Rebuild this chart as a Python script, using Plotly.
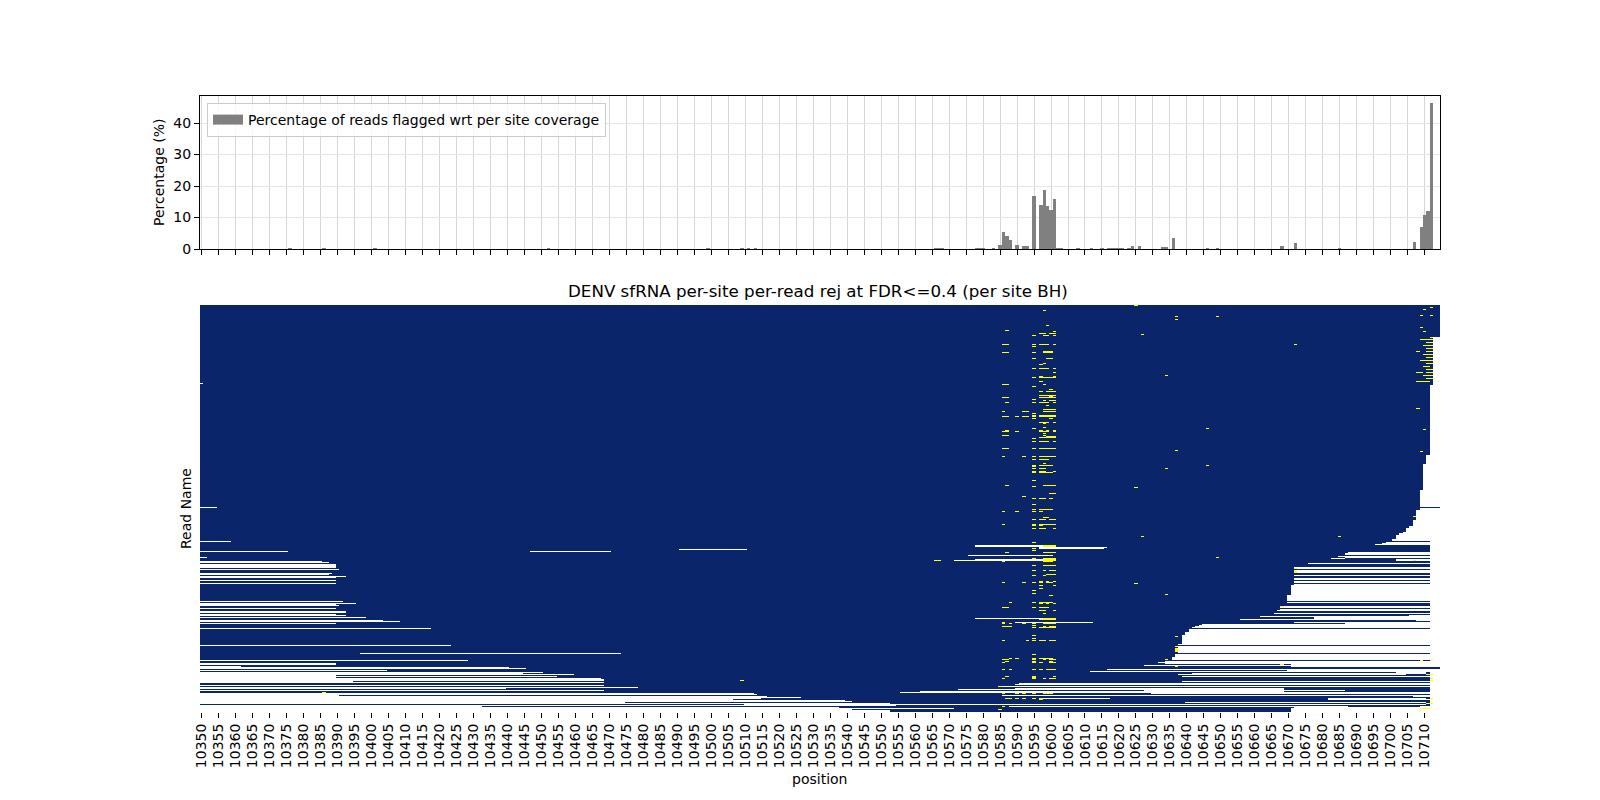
import plotly.graph_objects as go

first_pos = 10350
last_pos = 10714
n_rows = 407
y_ticks = [0, 10, 20, 30, 40]
x_ticks = list(range(10350, 10715, 5))

bar_positions = [10376, 10386, 10401, 10452, 10499, 10509, 10511, 10513, 10566, 10567, 10568, 10578, 10579, 10580, 10583, 10585, 10586, 10587, 10588, 10590, 10592, 10593, 10595, 10597, 10598, 10599, 10600, 10601, 10602, 10603, 10608, 10612, 10615, 10617, 10618, 10619, 10620, 10621, 10623, 10624, 10626, 10633, 10634, 10636, 10646, 10649, 10668, 10672, 10685, 10707, 10709, 10710, 10711, 10712]
bar_values = [0.3, 0.3, 0.3, 0.3, 0.3, 0.3, 0.3, 0.3, 0.3, 0.3, 0.3, 0.3, 0.3, 0.3, 0.3, 1.3, 5.4, 4.2, 3.0, 1.2, 1.0, 1.0, 16.9, 14.0, 18.8, 13.8, 12.5, 16.0, 0.3, 0.3, 0.3, 0.3, 0.3, 0.3, 0.3, 0.3, 0.3, 0.3, 0.3, 0.9, 0.8, 0.6, 0.6, 3.5, 0.3, 0.3, 0.9, 2.0, 0.3, 2.3, 7.0, 10.9, 12.2, 46.3]

# uncovered stretches of a read: (row, first position, last position)
gap_spans = [
 (202,10350,10354),(78,10350,10350),(236,10350,10358),(246,10350,10375),(246,10447,10470),
 (252,10350,10351),(256,10350,10385),(257,10350,10387),(259,10350,10389),(260,10350,10389),(261,10350,10389),
 (262,10350,10389),(264,10350,10390),(268,10350,10388),(269,10350,10387),(271,10350,10392),(272,10350,10389),
 (275,10350,10389),(278,10350,10389),(296,10350,10391),(298,10350,10395),(299,10350,10389),(300,10350,10390),
 (303,10350,10389),(306,10350,10392),(307,10350,10392),(309,10350,10389),(310,10350,10392),(312,10350,10398),
 (315,10350,10403),(316,10350,10408),(318,10350,10389),(323,10350,10417),(340,10350,10423),(348,10397,10473),
 (355,10350,10428),(358,10350,10389),(359,10350,10389),(361,10350,10361),(362,10350,10440),(363,10350,10445),
 (365,10350,10404),(367,10350,10450),(368,10350,10444),(369,10350,10459),(370,10350,10389),(371,10350,10454),
 (372,10350,10389),(373,10350,10467),(374,10350,10468),(375,10350,10468),(376,10350,10394),(377,10350,10468),
 (380,10350,10468),(382,10350,10478),(383,10350,10439),(385,10350,10468),(388,10350,10512),(389,10350,10513),
 (390,10350,10390),(391,10350,10516),(392,10350,10526),(393,10350,10514),(394,10350,10506),(395,10350,10539),
 (396,10350,10541),(397,10350,10474),(398,10350,10552),(399,10510,10710),(400,10350,10554),(401,10350,10432),
 (402,10350,10537),(403,10350,10571),(404,10350,10541),(405,10350,10552),(406,10350,10552),
 (244,10491,10510),(240,10578,10597),(241,10578,10597),(242,10597,10616),(243,10597,10615),(250,10576,10600),
 (254,10578,10600),(255,10572,10599),(313,10578,10597),(317,10590,10612),(317,10672,10686),
 (253,10683,10686),(304,10668,10707),(311,10662,10705),(314,10656,10677),(357,10632,10670),(358,10634,10670),
 (360,10628,10670),(364,10617,10670),(366,10612,10669),(367,10702,10710),(368,10642,10710),(369,10638,10704),
 (371,10639,10711),(376,10639,10711),(383,10590,10668),(384,10573,10668),(385,10628,10686),(386,10562,10668),
 (387,10556,10711),(393,10597,10617),(393,10682,10710),(397,10640,10710),(401,10588,10687),(402,10672,10687),
]
# white from this position to the right edge: (first row, last row, first position)
tail_spans = [
 (32,79,10713),(80,149,10712),(150,158,10711),(159,184,10710),(185,201,10709),(203,204,10709),(205,214,10708),
 (215,220,10707),(221,222,10706),(223,226,10705),(227,227,10704),(228,229,10703),(230,233,10702),(234,235,10701),
 (236,236,10712),(237,237,10699),(238,238,10698),(239,239,10696),(240,246,10712),(247,247,10688),(248,249,10687),
 (250,250,10712),(251,251,10685),(252,252,10687),(253,253,10712),(254,255,10702),(256,257,10712),(258,258,10676),
 (259,261,10712),(262,263,10672),(264,264,10712),(265,267,10672),(268,269,10712),(270,270,10672),(271,272,10712),
 (273,274,10672),(275,275,10712),(276,277,10672),(278,278,10712),(279,279,10672),(280,289,10671),(290,295,10670),
 (296,296,10712),(297,297,10670),(298,300,10712),(301,302,10668),(303,303,10712),(304,304,10708),(305,305,10667),
 (306,307,10712),(308,308,10666),(309,309,10712),(310,310,10706),(311,311,10706),(312,312,10678),(313,314,10678),
 (315,315,10708),(316,316,10712),(317,318,10687),(319,319,10645),(320,320,10644),(321,321,10643),(322,322,10642),
 (323,323,10712),(324,326,10641),(327,329,10640),(330,338,10639),(339,339,10638),(340,340,10712),(341,347,10638),
 (348,348,10712),(349,351,10637),(352,354,10636),(355,355,10712),(356,356,10634),(357,361,10671),(364,364,10670),
 (365,365,10670),(366,366,10669),(367,377,10712),(378,378,10591),(379,379,10590),(380,380,10712),(381,381,10586),
 (382,387,10712),(388,388,10630),(389,389,10712),(390,390,10586),(391,391,10707),(392,393,10712),(394,394,10682),
 (395,400,10712),(401,401,10709),(402,402,10688),(403,406,10671),
]
# flagged sites: (row, first position, last position)
flag_spans = [
 (0,10625,10625),(5,10598,10598),(11,10637,10637),(11,10649,10649),(14,10637,10637),(20,10599,10599),(25,10587,10587),
 (26,10601,10601),(28,10597,10598),(28,10600,10601),(29,10627,10627),(30,10595,10595),(30,10598,10599),(30,10601,10601),
 (39,10586,10587),(39,10595,10595),(39,10597,10599),(39,10601,10601),(39,10672,10672),(41,10595,10595),(46,10598,10600),
 (47,10586,10587),(47,10595,10595),(47,10598,10600),(53,10595,10595),(53,10599,10600),(58,10598,10598),(59,10597,10597),
 (63,10595,10595),(63,10597,10599),(63,10601,10601),(67,10601,10601),(70,10634,10634),(71,10597,10597),(71,10601,10601),
 (72,10595,10595),(72,10597,10601),(76,10597,10597),(79,10586,10587),(79,10598,10598),(81,10595,10595),(84,10600,10600),
 (86,10597,10597),(86,10599,10601),(90,10597,10601),(91,10600,10600),(92,10586,10587),(92,10597,10601),(94,10595,10595),
 (95,10598,10598),(95,10600,10601),(97,10587,10587),(97,10595,10595),(97,10597,10599),(97,10601,10601),(100,10599,10599),
 (104,10598,10601),(106,10586,10586),(106,10592,10593),(106,10598,10601),(108,10595,10595),(110,10595,10595),(110,10597,10601),
 (111,10586,10587),(111,10590,10590),(111,10592,10593),(111,10595,10595),(111,10597,10601),(113,10595,10595),(113,10600,10600),
 (117,10597,10599),(117,10601,10601),(118,10598,10598),(122,10598,10598),(123,10595,10595),(123,10646,10646),(125,10587,10587),
 (125,10597,10597),(125,10599,10599),(125,10601,10601),(126,10586,10587),(126,10590,10590),(126,10597,10599),(126,10601,10601),
 (128,10598,10598),(130,10586,10587),(130,10598,10598),(131,10599,10601),(132,10597,10601),(133,10595,10595),(136,10595,10595),
 (136,10597,10599),(136,10601,10601),(143,10586,10587),(143,10595,10595),(143,10597,10601),(145,10637,10637),(151,10586,10586),
 (151,10592,10592),(151,10595,10595),(151,10597,10601),(154,10595,10595),(154,10597,10599),(158,10598,10598),(160,10595,10595),
 (160,10597,10600),(160,10646,10646),(161,10595,10595),(163,10595,10595),(163,10597,10598),(163,10634,10634),(166,10595,10595),
 (166,10597,10598),(166,10601,10601),(167,10595,10595),(167,10597,10600),(175,10595,10595),(180,10587,10587),(180,10598,10601),
 (181,10595,10595),(182,10625,10625),(188,10600,10601),(191,10592,10592),(193,10595,10595),(193,10597,10598),(193,10600,10600),
 (199,10595,10595),(204,10595,10595),(204,10597,10600),(206,10586,10586),(206,10590,10590),(206,10595,10595),(206,10597,10597),
 (212,10598,10599),(214,10595,10595),(214,10597,10598),(214,10600,10601),(219,10586,10586),(219,10595,10595),(219,10597,10601),
 (220,10595,10595),(220,10597,10597),(223,10595,10595),(223,10597,10598),(223,10601,10601),(237,10595,10595),(240,10598,10601),
 (241,10598,10601),(243,10595,10595),(245,10595,10595),(247,10587,10587),(247,10598,10601),(253,10595,10595),(253,10598,10601),
 (254,10598,10601),(255,10598,10601),(256,10586,10586),(256,10598,10600),(260,10595,10595),(260,10598,10601),(265,10595,10595),
 (265,10598,10598),(265,10600,10601),(269,10599,10601),(270,10595,10595),(270,10598,10598),(276,10597,10597),(276,10599,10599),
 (276,10601,10601),(277,10586,10586),(277,10592,10592),(277,10595,10595),(277,10597,10597),(277,10599,10600),(280,10597,10597),
 (280,10601,10601),(283,10597,10597),(285,10595,10595),(288,10595,10595),(290,10600,10600),(297,10588,10588),(297,10595,10595),
 (297,10597,10600),(298,10597,10597),(298,10599,10599),(298,10601,10601),(302,10586,10587),(302,10595,10595),(302,10597,10599),
 (305,10597,10598),(305,10601,10601),(308,10598,10598),(313,10598,10601),(314,10597,10601),(317,10586,10586),(318,10586,10586),
 (318,10588,10588),(318,10592,10592),(318,10595,10595),(318,10598,10601),(320,10595,10595),(321,10586,10588),(321,10598,10598),
 (321,10600,10601),(322,10595,10595),(322,10597,10601),(330,10595,10595),(333,10595,10595),(335,10586,10586),(335,10593,10593),
 (335,10595,10595),(335,10597,10598),(335,10600,10601),(349,10595,10595),(353,10588,10588),(353,10590,10590),(353,10595,10595),
 (353,10597,10600),(354,10586,10587),(354,10595,10595),(354,10598,10598),(354,10600,10601),(356,10587,10587),(356,10595,10595),
 (356,10600,10600),(357,10586,10586),(357,10595,10595),(357,10597,10597),(357,10600,10601),(364,10586,10586),(364,10588,10588),
 (364,10595,10595),(364,10597,10597),(364,10599,10601),(371,10587,10587),(371,10595,10595),(371,10601,10601),(372,10595,10595),
 (373,10586,10586),(373,10595,10595),(373,10598,10598),(373,10600,10601),(381,10585,10585),(388,10586,10586),(388,10590,10590),
 (388,10592,10592),(388,10595,10595),(388,10598,10600),(393,10587,10588),(393,10590,10590),(393,10592,10592),(393,10595,10595),
 (393,10597,10597),(394,10597,10597),(401,10586,10586),(404,10585,10585),
 (375,10509,10509),(387,10386,10386),(255,10566,10567),(231,10627,10627),(231,10685,10685),(252,10649,10649),(278,10625,10625),
 (289,10634,10634),(263,10672,10672),(266,10672,10672),(267,10672,10672),(301,10668,10668),(331,10637,10637),(341,10637,10637),
 (343,10637,10637),(344,10637,10637),(345,10637,10637),(346,10637,10637),(354,10634,10634),(359,10668,10668),(361,10637,10637),
 (211,10707,10707),(255,10707,10707),(355,10709,10709),(355,10712,10712),(369,10711,10712),(373,10712,10712),(375,10712,10712),
 (393,10712,10712),(398,10711,10712),(403,10709,10711),
 (2,10712,10712),(4,10710,10710),(10,10709,10709),(10,10712,10712),(22,10709,10709),(26,10710,10710),(32,10712,10712),(34,10709,10712),
 (37,10711,10712),(40,10710,10712),(43,10711,10712),(46,10708,10708),(46,10711,10712),(49,10710,10712),(52,10711,10712),
 (55,10709,10712),(58,10711,10712),(61,10710,10711),(64,10711,10712),(67,10708,10709),(67,10711,10712),(70,10710,10712),(73,10711,10712),
 (76,10708,10711),(103,10708,10708),(124,10710,10710),(146,10709,10709),
]

positions = list(range(first_pos, last_pos + 1))
z = [[0] * len(positions) for _ in range(n_rows)]
for row, a, b in gap_spans:
    for p in range(a, b + 1):
        z[row][p - first_pos] = None
for r1, r2, a in tail_spans:
    for row in range(r1, r2 + 1):
        for p in range(a, last_pos + 1):
            z[row][p - first_pos] = None
for row, a, b in flag_spans:
    for p in range(a, b + 1):
        z[row][p - first_pos] = 1

FONT = "DejaVu Sans"
LEGEND_NAME = "Percentage of reads flagged wrt per site coverage"
fig = go.Figure()
fig.add_trace(go.Bar(x=bar_positions, y=bar_values, width=1.0, marker=dict(color="#808080", line=dict(width=0)),
                     name=LEGEND_NAME, showlegend=False, xaxis="x", yaxis="y"))
fig.add_trace(go.Scatter(x=[None], y=[None], mode="lines", line=dict(color="#808080", width=10), name=LEGEND_NAME,
                         xaxis="x", yaxis="y"))
fig.add_trace(go.Heatmap(z=z, x=positions, y=list(range(n_rows)), colorscale=[[0, "#0a2569"], [1, "#ffff00"]],
                         zmin=0, zmax=1, showscale=False, xaxis="x2", yaxis="y2", hoverongaps=False))

x_range = [first_pos - 0.5, last_pos + 0.5]
fig.update_layout(
    width=1600, height=800, autosize=False, margin=dict(l=0, r=0, t=0, b=0, autoexpand=False),
    paper_bgcolor="white", plot_bgcolor="white", font=dict(family=FONT, size=14, color="black"), bargap=0,
    showlegend=True,
    legend=dict(x=207 / 1600, y=1 - 103 / 800, xanchor="left", yanchor="top", bgcolor="rgba(255,255,255,0.8)",
                bordercolor="#cccccc", borderwidth=1, font=dict(size=14), itemwidth=30),
    xaxis=dict(domain=[200 / 1600, 1440 / 1600], anchor="y", range=x_range, tickvals=x_ticks, showticklabels=False,
               ticks="outside", ticklen=5, tickcolor="black", showline=True, linecolor="black", mirror=True, linewidth=1,
               showgrid=True, gridcolor="#d6d6d6", gridwidth=1, zeroline=False),
    yaxis=dict(domain=[1 - 249 / 800, 1 - 96 / 800], anchor="x", range=[0, 48.6], tickvals=y_ticks,
               ticks="outside", ticklen=5, tickcolor="black", showline=True, linecolor="black", mirror=True, linewidth=1,
               showgrid=True, gridcolor="#e6e6e6", gridwidth=1, zeroline=False),
    xaxis2=dict(domain=[200 / 1600, 1440 / 1600], anchor="y2", range=x_range, tickvals=x_ticks, ticktext=[str(t) for t in x_ticks],
                tickangle=-90, ticks="outside", ticklen=5, tickcolor="black", showline=False, showgrid=False, zeroline=False),
    yaxis2=dict(domain=[1 - 712 / 800, 1 - 305 / 800], anchor="x2", range=[n_rows - 0.5, -0.5], showticklabels=False,
                ticks="", showline=False, showgrid=False, zeroline=False),
    annotations=[
        dict(text="DENV sfRNA per-site per-read rej at FDR<=0.4 (per site BH)", x=818 / 1600, y=1 - 291 / 800, xref="paper", yref="paper",
             showarrow=False, font=dict(size=16.7), xanchor="center", yanchor="middle"),
        dict(text="Percentage (%)", x=159 / 1600, y=1 - 173 / 800, xref="paper", yref="paper", showarrow=False, textangle=-90,
             font=dict(size=14), xanchor="center", yanchor="middle"),
        dict(text="Read Name", x=186 / 1600, y=1 - 509 / 800, xref="paper", yref="paper", showarrow=False, textangle=-90,
             font=dict(size=14), xanchor="center", yanchor="middle"),
        dict(text="position", x=820 / 1600, y=1 - 779 / 800, xref="paper", yref="paper", showarrow=False,
             font=dict(size=14), xanchor="center", yanchor="middle"),
    ],
)
fig.write_html("out.html", post_script="document.body.style.margin='0';", config=dict(displayModeBar=False))
